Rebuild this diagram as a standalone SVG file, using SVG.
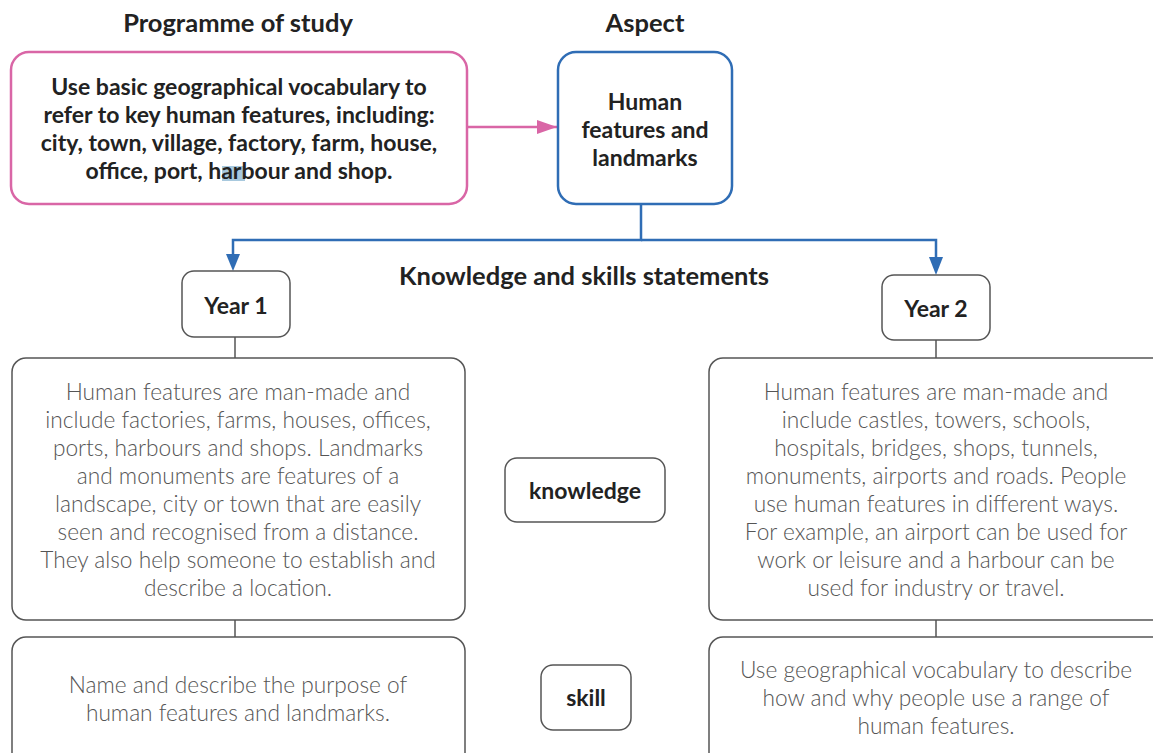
<svg xmlns="http://www.w3.org/2000/svg" width="1153" height="753" viewBox="0 0 1153 753">
<style>
.h{font-family:Lato,"Liberation Sans",sans-serif;font-weight:bold;font-size:25.5px;fill:#222;text-anchor:middle}
.b{font-family:Lato,"Liberation Sans",sans-serif;font-weight:bold;font-size:23px;fill:#222;text-anchor:middle}
.t{font-family:Lato,"Liberation Sans",sans-serif;font-weight:300;font-size:22.7px;fill:#555;text-anchor:middle}
.box{fill:#fff;stroke:#555;stroke-width:1.5}
.blue{fill:none;stroke:#2f6db5;stroke-width:2.5}
.gl{fill:none;stroke:#555;stroke-width:1.5}
</style>
<defs>
<marker id="ap" markerWidth="20" markerHeight="14" refX="20" refY="7" orient="auto" markerUnits="userSpaceOnUse" viewBox="0 0 20 14"><path d="M0,0 L20,7 L0,14 z" fill="#d966a6"/></marker>
</defs>
<rect width="1153" height="753" fill="#fff"/>
<text class="h" x="238" y="32">Programme of study</text>
<text class="h" x="645" y="32">Aspect</text>
<text class="h" x="584" y="285">Knowledge and skills statements</text>
<g id="connectors">
<line x1="467" y1="127" x2="557" y2="127" stroke="#d966a6" stroke-width="2.5" marker-end="url(#ap)"/>
<polyline class="blue" points="641,204 641,240 233,240 233,260" />
<polyline class="blue" points="641,240 936,240 936,262" />
<path d="M226,254 L240,254 L233,271 z" fill="#2f6db5"/>
<path d="M929,257 L943,257 L936,275 z" fill="#2f6db5"/>
<line class="gl" x1="235" y1="337" x2="235" y2="358"/>
<line class="gl" x1="936" y1="340" x2="936" y2="358"/>
<line class="gl" x1="235" y1="620" x2="235" y2="637"/>
<line class="gl" x1="936" y1="620" x2="936" y2="637"/>
</g>
<g id="programme">
<rect x="11" y="52" width="456" height="152" rx="18" fill="#fff" stroke="#d966a6" stroke-width="2.5"/>
<rect x="222" y="166" width="23" height="15" fill="#a8c9de"/>
<text class="b" x="239" y="95">Use basic geographical vocabulary to</text>
<text class="b" x="239" y="123">refer to key human features, including:</text>
<text class="b" x="239" y="151">city, town, village, factory, farm, house,</text>
<text class="b" x="239" y="179">office, port, harbour and shop.</text>
</g>
<g id="aspect">
<rect x="558" y="52" width="174" height="152" rx="18" fill="#fff" stroke="#2f6db5" stroke-width="2.5"/>
<text class="b" x="645" y="110">Human</text>
<text class="b" x="645" y="138">features and</text>
<text class="b" x="645" y="166">landmarks</text>
</g>
<g id="year1">
<rect class="box" x="182" y="271" width="108" height="66" rx="12"/>
<text class="b" x="236" y="314">Year 1</text>
</g>
<g id="year2">
<rect class="box" x="882" y="275" width="108" height="65" rx="12"/>
<text class="b" x="936" y="317">Year 2</text>
</g>
<g id="knowledge1">
<rect class="box" x="12" y="358" width="453" height="262" rx="14"/>
<text class="t" x="238" y="400">Human features are man-made and</text>
<text class="t" x="238" y="428">include factories, farms, houses, offices,</text>
<text class="t" x="238" y="456">ports, harbours and shops. Landmarks</text>
<text class="t" x="238" y="484">and monuments are features of a</text>
<text class="t" x="238" y="512">landscape, city or town that are easily</text>
<text class="t" x="238" y="540">seen and recognised from a distance.</text>
<text class="t" x="238" y="568">They also help someone to establish and</text>
<text class="t" x="238" y="596">describe a location.</text>
</g>
<g id="knowledge-label">
<rect class="box" x="505" y="458" width="160" height="64" rx="12"/>
<text class="b" x="585" y="499">knowledge</text>
</g>
<g id="knowledge2">
<rect class="box" x="709" y="358" width="460" height="262" rx="14"/>
<text class="t" x="936" y="400">Human features are man-made and</text>
<text class="t" x="936" y="428">include castles, towers, schools,</text>
<text class="t" x="936" y="456">hospitals, bridges, shops, tunnels,</text>
<text class="t" x="936" y="484">monuments, airports and roads. People</text>
<text class="t" x="936" y="512">use human features in different ways.</text>
<text class="t" x="936" y="540">For example, an airport can be used for</text>
<text class="t" x="936" y="568">work or leisure and a harbour can be</text>
<text class="t" x="936" y="596">used for industry or travel.</text>
</g>
<g id="skill1">
<rect class="box" x="12" y="637" width="453" height="140" rx="14"/>
<text class="t" x="238" y="693">Name and describe the purpose of</text>
<text class="t" x="238" y="721">human features and landmarks.</text>
</g>
<g id="skill-label">
<rect class="box" x="541" y="665" width="90" height="65" rx="12"/>
<text class="b" x="586" y="706">skill</text>
</g>
<g id="skill2">
<rect class="box" x="709" y="637" width="460" height="140" rx="14"/>
<text class="t" x="936" y="678">Use geographical vocabulary to describe</text>
<text class="t" x="936" y="706">how and why people use a range of</text>
<text class="t" x="936" y="734">human features.</text>
</g>
</svg>
